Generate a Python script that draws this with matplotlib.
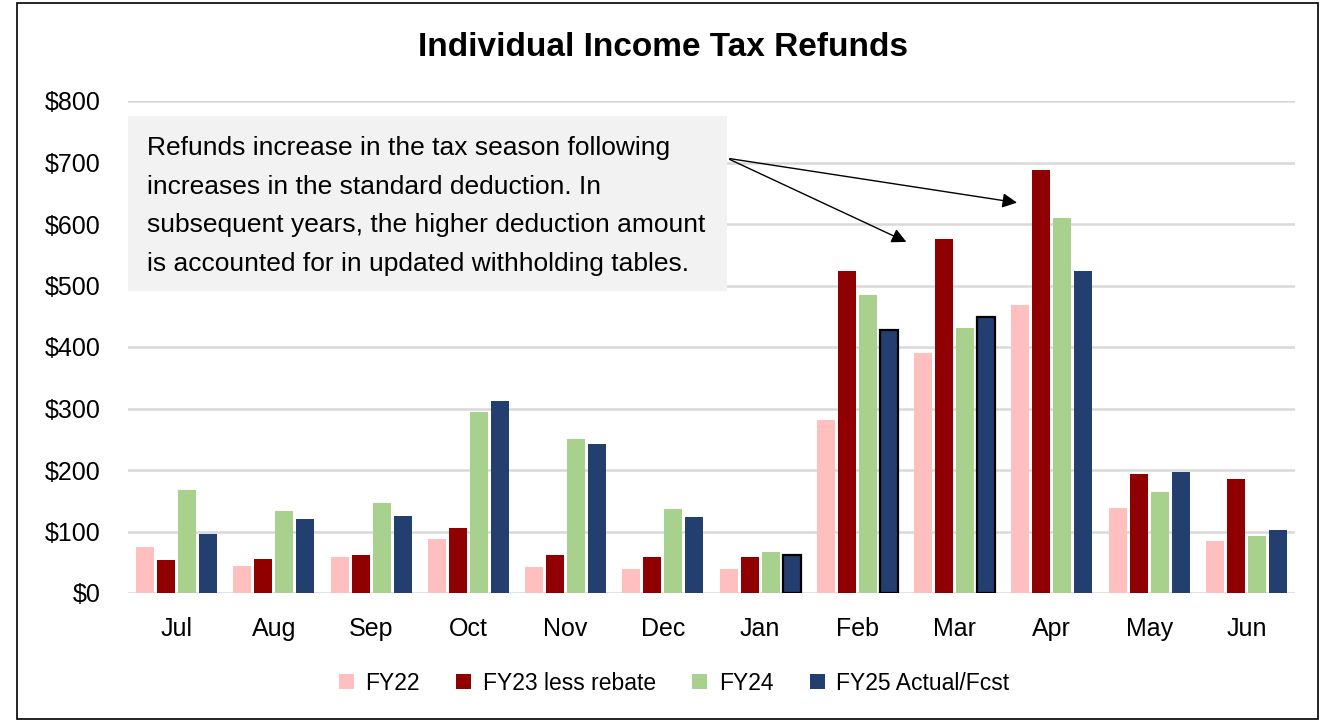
import matplotlib
matplotlib.use("Agg")
import matplotlib.pyplot as plt
import numpy as np
from matplotlib.patches import Rectangle

months = ["Jul", "Aug", "Sep", "Oct", "Nov", "Dec", "Jan", "Feb", "Mar", "Apr", "May", "Jun"]
fy22 = [75, 44, 59, 88, 42, 39, 39, 281, 391, 468, 139, 85]
fy23 = [53, 56, 62, 106, 62, 58, 58, 524, 575, 688, 193, 186]
fy24 = [167, 133, 146, 295, 250, 137, 67, 485, 431, 610, 164, 92]
fy25 = [96, 120, 126, 312, 243, 124, 62, 428, 448, 524, 197, 103]
fy25_outlined = ["Jan", "Feb", "Mar"]

series_names = ["FY22", "FY23 less rebate", "FY24", "FY25 Actual/Fcst"]
colors = ["#FFBFBF", "#900000", "#A9D18E", "#223F70"]
note = ("Refunds increase in the tax season following\n"
        "increases in the standard deduction. In\n"
        "subsequent years, the higher deduction amount\n"
        "is accounted for in updated withholding tables.")

font = ["Liberation Sans", "DejaVu Sans"]

fig = plt.figure(figsize=(13.27, 7.21), dpi=100)
ax = fig.add_axes([128 / 1327, 1 - 593 / 721, 1167 / 1327, 492 / 721])

x = np.arange(len(months))
slot = 0.216
width = 0.185
for i, (vals, name, c) in enumerate(zip([fy22, fy23, fy24, fy25], series_names, colors)):
    pos = x + (i - 1.5) * slot
    edges = ["black" if (i == 3 and m in fy25_outlined) else "none" for m in months]
    lws = [1.6 if e == "black" else 0 for e in edges]
    ax.bar(pos, vals, width, color=c, label=name, edgecolor=edges, linewidth=lws, zorder=3)

ax.set_xlim(-0.5, len(months) - 0.5)
ax.set_ylim(0, 800)
ax.set_yticks(np.arange(0, 801, 100))
ax.set_yticklabels([f"${v}" for v in range(0, 801, 100)], fontsize=18, family=font)
ax.set_xticks(x)
ax.set_xticklabels(months, fontsize=18, family=font)
ax.tick_params(length=0)
ax.tick_params(axis="x", pad=17)
ax.tick_params(axis="y", pad=20)
ax.grid(axis="y", color="#D9D9D9", linewidth=1.8, zorder=0)
for s in ax.spines.values():
    s.set_visible(False)

# note box
ax.add_patch(Rectangle((0, 491 / 800), 599 / 1167, 285 / 800, transform=ax.transAxes,
                       facecolor="#F2F2F2", edgecolor="none", zorder=4))
ax.text(19 / 1167, 1 - (206 - 101) / 492, note, transform=ax.transAxes, fontsize=19,
        family=font, va="center", ha="left", linespacing=1.78, zorder=5)
start = (5.66, 707)
for target in [(8.67, 634), (7.53, 569)]:
    ax.annotate("", xy=target, xytext=start,
                arrowprops=dict(arrowstyle="-|>", color="black", lw=1, mutation_scale=22),
                zorder=6)

fig.text(0.5, 1 - 47 / 721, "Individual Income Tax Refunds", ha="center", va="center",
         fontsize=24, fontweight="bold", family=font)

ax.legend(loc="center", bbox_to_anchor=((674 - 128) / 1167, (593 - 683) / 492), ncol=4,
          frameon=False, handlelength=0.65, handleheight=0.65, handletextpad=0.5,
          columnspacing=1.6, prop={"family": font, "size": 16.5})

fig.patches.append(Rectangle((17 / 1327, 2 / 721), 1301 / 1327, 716 / 721, transform=fig.transFigure,
                             fill=False, edgecolor="black", linewidth=1.2))

fig.savefig("out.png", dpi=100, facecolor="white")
